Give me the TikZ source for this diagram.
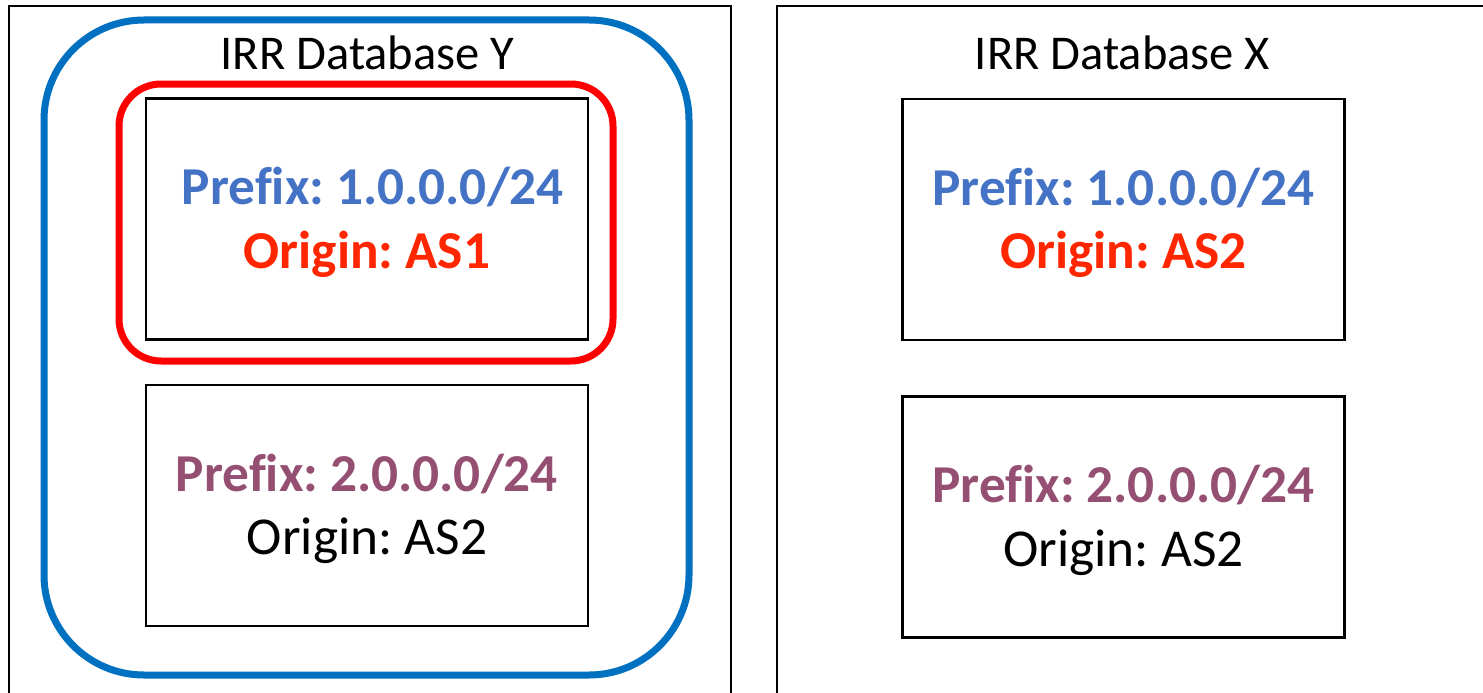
\documentclass[tikz,border=0pt]{standalone}
\usepackage{fontspec}
\setmainfont[Ligatures=NoCommon]{Carlito}
\frenchspacing
\definecolor{ringblue}{HTML}{0070C0}
\definecolor{ringred}{HTML}{FF0000}
\definecolor{pfxblue}{HTML}{4472C4}
\definecolor{pfxpurple}{HTML}{954F72}
\definecolor{orgred}{HTML}{FF2600}
\tikzset{
  dbpanel/.style={draw=black, line width=2pt, fill=white},
  entry/.style={draw=black, line width=2.5pt, minimum width=442pt, minimum height=241pt, inner sep=0pt},
  line/.style={anchor=base, inner sep=0pt, font=\fontsize{53.3}{64}\selectfont},
  boldline/.style={line, font=\fontsize{53.3}{64}\selectfont\bfseries, text=#1},
  dbtitle/.style={anchor=base, inner sep=0pt, font=\fontsize{48.5}{58}\selectfont},
  ring/.style={line width=7pt, rounded corners=#1},
}
\begin{document}
\begin{tikzpicture}[x=1pt,y=-1pt]
\useasboundingbox (0,0) rectangle (1483,693);
\clip (0,0) rectangle (1483,693);
\fill[white] (0,0) rectangle (1483,693);
% database panels
\draw[dbpanel] (9,6) rectangle (731,720);
\draw[dbpanel] (777,6) rectangle (1520,720);
% titles
\node[dbtitle] (titleY) at (367.5,70) {IRR Database Y};
\node[dbtitle] (titleX) at (1122.5,70) {IRR Database X};
% route entry boxes
\node[entry] (y1) at (367,219) {};
\node[entry] (y2) at (367,505.5) {};
\node[entry] (x1) at (1123.5,219.5) {};
\node[entry] (x2) at (1123.5,517) {};
% entry texts: prefix line and origin line
\node[boldline=pfxblue] (y1p) at ([xshift=6pt, yshift=-107.5pt]y1.north) {Prefix: 1.0.0.0/24};
\node[boldline=orgred] (y1o) at ([yshift=-171pt]y1.north) {Origin: AS1};
\node[boldline=pfxpurple] (y2p) at ([yshift=-107.5pt]y2.north) {Prefix: 2.0.0.0/24};
\node[line] (y2o) at ([yshift=-171pt]y2.north) {Origin: AS2};
\node[boldline=pfxblue] (x1p) at ([yshift=-107.5pt]x1.north) {Prefix: 1.0.0.0/24};
\node[boldline=orgred] (x1o) at ([yshift=-171pt]x1.north) {Origin: AS2};
\node[boldline=pfxpurple] (x2p) at ([yshift=-107.5pt]x2.north) {Prefix: 2.0.0.0/24};
\node[line] (x2o) at ([yshift=-171pt]x2.north) {Origin: AS2};
% highlight rings
\draw[ring=100pt, draw=ringblue] (44,20) rectangle (689,675);
\draw[ring=42pt, draw=ringred] (119,84) rectangle (613,361);
\end{tikzpicture}
\end{document}
